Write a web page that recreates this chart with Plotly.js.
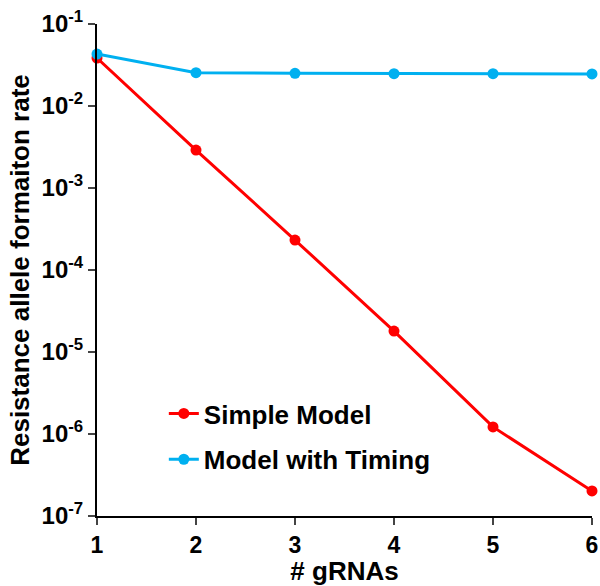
<!DOCTYPE html>
<html>
<head>
<meta charset="utf-8">
<script src="https://cdn.plot.ly/plotly-3.0.1.min.js"></script>
<style>html,body{margin:0;padding:0;background:#fff;}#chart{width:600px;height:586px;}</style>
</head>
<body>
<div id="chart"></div>
<script>
var gRNAs = [1, 2, 3, 4, 5, 6];
var simpleModel = [0.0385, 0.0029, 0.000232, 0.000018, 0.00000122, 0.000000202];
var modelWithTiming = [0.043, 0.0255, 0.0250, 0.0248, 0.0248, 0.0246];
var yTickVals = [1e-7, 1e-6, 1e-5, 1e-4, 1e-3, 1e-2, 1e-1];
var yTickText = ['10<sup>-7</sup>', '10<sup>-6</sup>', '10<sup>-5</sup>', '10<sup>-4</sup>', '10<sup>-3</sup>', '10<sup>-2</sup>', '10<sup>-1</sup>'];
var xTickVals = [1, 2, 3, 4, 5, 6];

var font = 'Liberation Sans, Arial, sans-serif';
var traces = [
  {x: gRNAs, y: simpleModel, name: 'Simple Model', mode: 'lines+markers', legendgroup: 'a',
   line: {color: '#ff0000', width: 3}, marker: {color: '#ff0000', size: 11}, cliponaxis: false},
  {x: gRNAs, y: modelWithTiming, name: 'Model with Timing', mode: 'lines+markers', legendgroup: 'b',
   line: {color: '#00b0f0', width: 3}, marker: {color: '#00b0f0', size: 11}, cliponaxis: false}
];
var layout = {
  width: 600, height: 586,
  margin: {l: 97, r: 8, t: 24, b: 70},
  paper_bgcolor: '#fff', plot_bgcolor: '#fff',
  font: {family: font, color: '#000'},
  showlegend: true,
  legend: {x: 0.135, y: 0.256, xanchor: 'left', yanchor: 'top', bgcolor: 'rgba(0,0,0,0)',
           font: {size: 26, family: font, weight: 'bold'}, traceorder: 'grouped', tracegroupgap: 9},
  xaxis: {range: [1, 6], tickvals: xTickVals, ticks: 'outside', ticklen: 7, tickwidth: 2,
          showline: true, linewidth: 2, linecolor: '#000', showgrid: false, zeroline: false,
          tickfont: {size: 23, family: font, weight: 'bold'},
          title: {text: '# gRNAs', font: {size: 26, family: font, weight: 'bold'}, standoff: 2}},
  yaxis: {type: 'log', range: [-7, -1], tickvals: yTickVals, ticktext: yTickText,
          ticks: 'outside', ticklen: 7, tickwidth: 2,
          showline: true, linewidth: 2, linecolor: '#000', showgrid: false, zeroline: false,
          tickfont: {size: 24, family: font, weight: 'bold'},
          title: {text: 'Resistance allele formaiton rate', font: {size: 26, family: font, weight: 'bold'}, standoff: 4}},
  xaxis2: {overlaying: 'x', anchor: 'y2', range: [1, 6], tickvals: xTickVals, ticks: 'inside', ticklen: 7, tickwidth: 2,
           showticklabels: false, showline: false, showgrid: false, zeroline: false},
  yaxis2: {overlaying: 'y', anchor: 'x2', type: 'log', range: [-7, -1], tickvals: yTickVals, ticks: 'inside', ticklen: 7, tickwidth: 2,
           showticklabels: false, showline: false, showgrid: false, zeroline: false}
};
Plotly.newPlot('chart', traces, layout, {displayModeBar: false, staticPlot: true});
</script>
</body>
</html>
